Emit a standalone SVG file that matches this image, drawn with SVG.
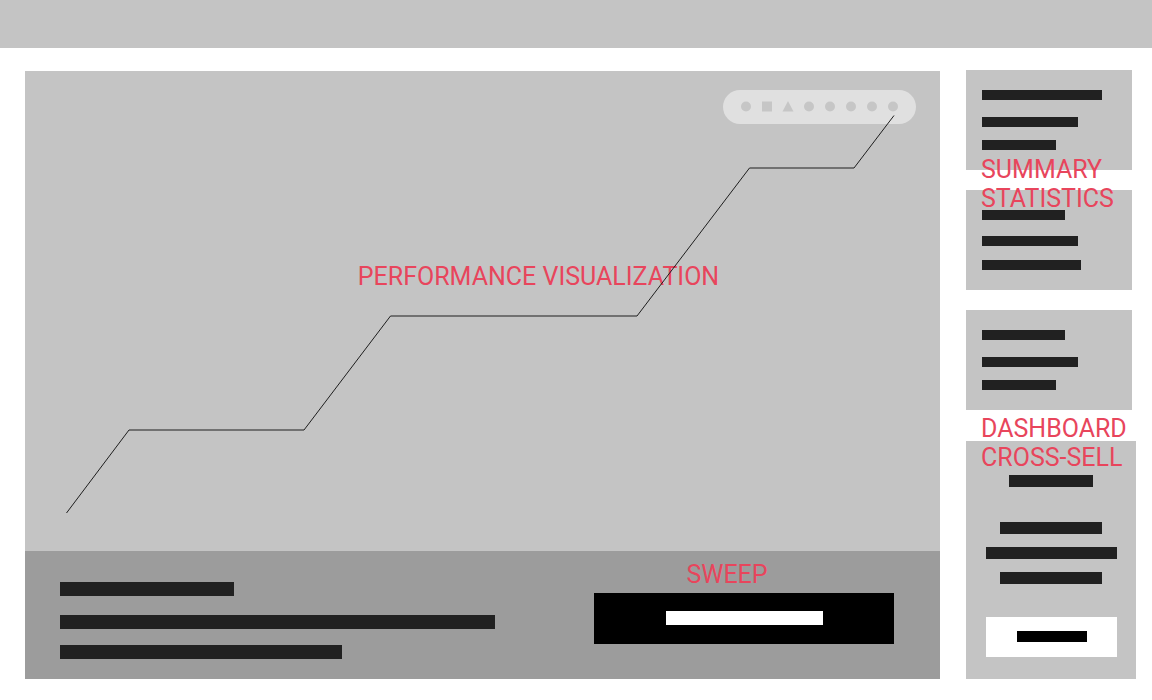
<svg xmlns="http://www.w3.org/2000/svg" width="1152" height="700" viewBox="0 0 1152 700">
<style>
.panel{fill:#c4c4c4}
.bar{fill:#212121}
.lbl{font-family:Roboto,"Liberation Sans",sans-serif;font-size:25px;fill:#e8455c}
.ico{fill:#c6c6c6}
</style>
<rect width="1152" height="700" fill="#ffffff"/>
<g id="header"><rect x="0" y="0" width="1152" height="48" class="panel"/></g>
<g id="chart">
<rect x="25" y="71" width="915" height="480" class="panel"/>
<rect x="723" y="90" width="193" height="34" rx="17" fill="#e0e0e0"/>
<circle cx="746" cy="106.5" r="5" class="ico"/>
<rect x="762" y="101.5" width="10" height="10" class="ico"/>
<polygon points="788,101 793.5,111.5 782.5,111.5" class="ico"/>
<circle cx="809" cy="106.5" r="5" class="ico"/>
<circle cx="830" cy="106.5" r="5" class="ico"/>
<circle cx="851" cy="106.5" r="5" class="ico"/>
<circle cx="872" cy="106.5" r="5" class="ico"/>
<circle cx="893" cy="106.5" r="5" class="ico"/>
<text x="538.5" y="285" class="lbl" text-anchor="middle">PERFORMANCE VISUALIZATION</text>
</g>
<g id="connectors">
<polyline points="66.5,513 129,430 304,430 390.5,316 637,316 749.5,168 854,168 894,115.5" fill="none" stroke="#1e1e1e" stroke-width="1"/>
</g>
<g id="sweep">
<rect x="25" y="551" width="915" height="128" fill="#9c9c9c"/>
<rect x="60" y="582" width="174" height="14" class="bar"/>
<rect x="60" y="615" width="435" height="14" class="bar"/>
<rect x="60" y="645" width="282" height="14" class="bar"/>
<rect x="594" y="593" width="300" height="51" fill="#000000"/>
<rect x="666" y="611" width="157" height="14" fill="#ffffff"/>
<text x="727" y="583" class="lbl" text-anchor="middle">SWEEP</text>
</g>
<g id="summary-statistics">
<rect x="966" y="70" width="166" height="100" class="panel"/>
<rect x="982" y="90" width="120" height="10" class="bar"/>
<rect x="982" y="117" width="96" height="10" class="bar"/>
<rect x="982" y="140" width="74" height="10" class="bar"/>
<rect x="966" y="190" width="166" height="100" class="panel"/>
<rect x="982" y="210" width="83" height="10" class="bar"/>
<rect x="982" y="236" width="96" height="10" class="bar"/>
<rect x="982" y="260" width="99" height="10" class="bar"/>
<text x="981" y="178" class="lbl">SUMMARY</text>
<text x="981" y="207" class="lbl">STATISTICS</text>
</g>
<g id="dashboard-cross-sell">
<rect x="966" y="310" width="166" height="100" class="panel"/>
<rect x="982" y="330" width="83" height="10" class="bar"/>
<rect x="982" y="357" width="96" height="10" class="bar"/>
<rect x="982" y="380" width="74" height="10" class="bar"/>
<rect x="966" y="441" width="170" height="238" class="panel"/>
<rect x="1009" y="475" width="84" height="12" class="bar"/>
<rect x="1000" y="522" width="102" height="12" class="bar"/>
<rect x="986" y="547" width="131" height="12" class="bar"/>
<rect x="1000" y="572" width="102" height="12" class="bar"/>
<rect x="986" y="617" width="131" height="40" fill="#ffffff"/>
<rect x="1017" y="631" width="70" height="11" fill="#000000"/>
<text x="981" y="437" class="lbl">DASHBOARD</text>
<text x="981" y="466" class="lbl">CROSS-SELL</text>
</g>
</svg>
